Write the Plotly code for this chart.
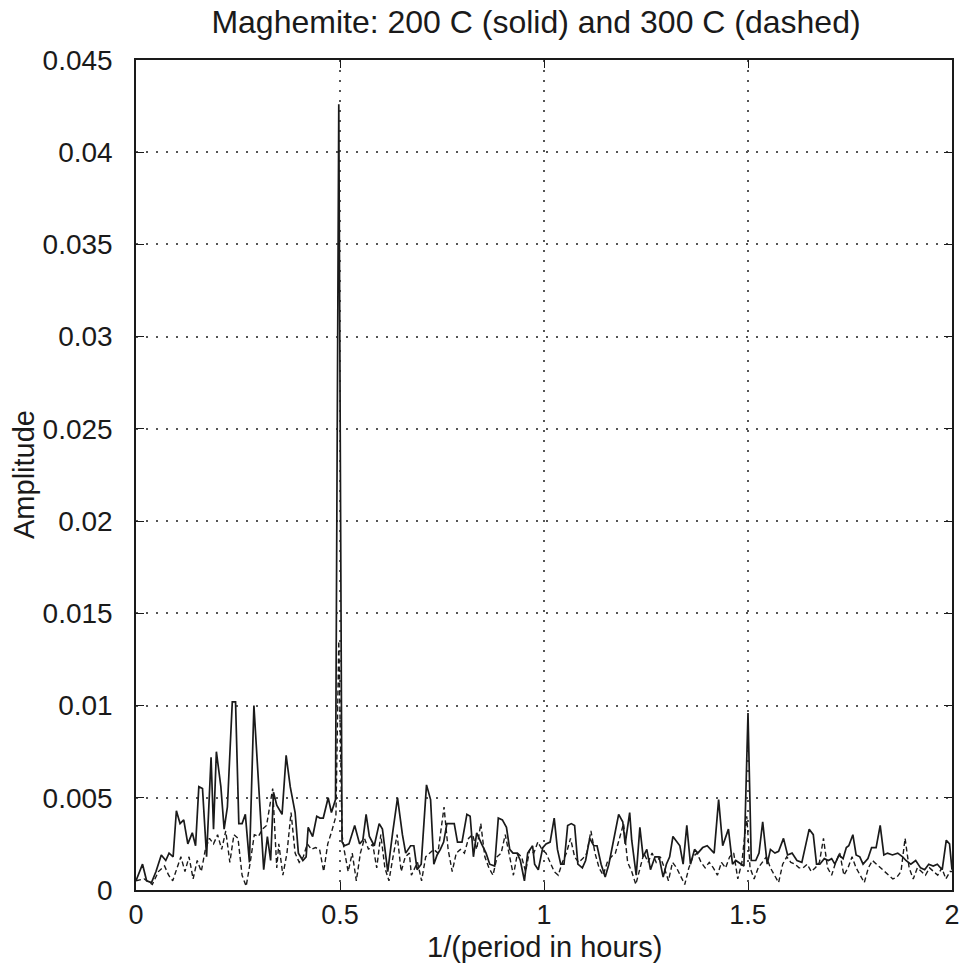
import plotly.graph_objects as go

# Solid curve: 200 C
solid_f = [0.000, 0.016, 0.026, 0.038, 0.049, 0.062, 0.073, 0.081, 0.091, 0.099,
           0.108, 0.117, 0.127, 0.138, 0.146, 0.154, 0.163, 0.173, 0.184, 0.190,
           0.197, 0.208, 0.216, 0.224, 0.236, 0.244, 0.252, 0.260, 0.268, 0.278,
           0.289, 0.313, 0.322, 0.330, 0.337, 0.345, 0.358, 0.368, 0.378, 0.390,
           0.398, 0.409, 0.417, 0.422, 0.433, 0.443, 0.451, 0.459, 0.471, 0.479,
           0.489, 0.497, 0.505, 0.511, 0.522, 0.536, 0.548, 0.556, 0.564, 0.572,
           0.584, 0.596, 0.604, 0.617, 0.629, 0.641, 0.653, 0.661, 0.673, 0.681,
           0.689, 0.699, 0.712, 0.722, 0.730, 0.738, 0.746, 0.754, 0.762, 0.770,
           0.780, 0.788, 0.799, 0.811, 0.819, 0.827, 0.835, 0.847, 0.858, 0.867,
           0.879, 0.888, 0.898, 0.908, 0.916, 0.924, 0.934, 0.942, 0.952, 0.960,
           0.972, 0.977, 0.986, 0.997, 1.005, 1.015, 1.025, 1.033, 1.041, 1.049,
           1.058, 1.067, 1.075, 1.083, 1.094, 1.102, 1.112, 1.122, 1.130, 1.140,
           1.150, 1.159, 1.171, 1.183, 1.193, 1.199, 1.210, 1.215, 1.226, 1.235,
           1.243, 1.252, 1.261, 1.272, 1.282, 1.292, 1.300, 1.308, 1.316, 1.325,
           1.333, 1.341, 1.350, 1.359, 1.369, 1.377, 1.389, 1.400, 1.409, 1.417,
           1.428, 1.438, 1.452, 1.462, 1.470, 1.482, 1.490, 1.500, 1.508, 1.519,
           1.527, 1.536, 1.547, 1.555, 1.566, 1.575, 1.587, 1.597, 1.608, 1.620,
           1.632, 1.640, 1.650, 1.660, 1.668, 1.676, 1.687, 1.697, 1.705, 1.713,
           1.723, 1.733, 1.741, 1.747, 1.757, 1.765, 1.774, 1.782, 1.794, 1.803,
           1.814, 1.824, 1.833, 1.842, 1.854, 1.867, 1.879, 1.887, 1.899, 1.911,
           1.923, 1.933, 1.943, 1.954, 1.964, 1.976, 1.986, 1.994, 2.000]
solid_a = [0.0005, 0.0014, 0.0005, 0.0004, 0.0010, 0.0019, 0.0016, 0.0020, 0.0018, 0.0043,
           0.0036, 0.0038, 0.0025, 0.0031, 0.0024, 0.0056, 0.0055, 0.0018, 0.0072, 0.0033,
           0.0075, 0.0056, 0.0033, 0.0045, 0.0102, 0.0102, 0.0036, 0.0036, 0.0041, 0.0015,
           0.0100, 0.0011, 0.0029, 0.0016, 0.0053, 0.0046, 0.0041, 0.0073, 0.0056, 0.0042,
           0.0020, 0.0016, 0.0018, 0.0034, 0.0029, 0.0040, 0.0039, 0.0039, 0.0050, 0.0042,
           0.0049, 0.0426, 0.0026, 0.0024, 0.0025, 0.0035, 0.0025, 0.0027, 0.0041, 0.0029,
           0.0024, 0.0036, 0.0033, 0.0010, 0.0031, 0.0050, 0.0030, 0.0020, 0.0024, 0.0024,
           0.0011, 0.0014, 0.0057, 0.0049, 0.0014, 0.0019, 0.0022, 0.0026, 0.0036, 0.0036,
           0.0036, 0.0026, 0.0026, 0.0041, 0.0040, 0.0018, 0.0031, 0.0025, 0.0020, 0.0014,
           0.0013, 0.0039, 0.0038, 0.0034, 0.0022, 0.0020, 0.0020, 0.0016, 0.0005, 0.0020,
           0.0024, 0.0014, 0.0011, 0.0023, 0.0025, 0.0026, 0.0039, 0.0022, 0.0014, 0.0014,
           0.0035, 0.0036, 0.0035, 0.0014, 0.0012, 0.0016, 0.0028, 0.0024, 0.0024, 0.0014,
           0.0007, 0.0014, 0.0027, 0.0041, 0.0037, 0.0025, 0.0042, 0.0027, 0.0008, 0.0034,
           0.0018, 0.0022, 0.0011, 0.0018, 0.0018, 0.0007, 0.0014, 0.0018, 0.0029, 0.0026,
           0.0024, 0.0014, 0.0035, 0.0014, 0.0022, 0.0020, 0.0023, 0.0024, 0.0022, 0.0020,
           0.0049, 0.0024, 0.0033, 0.0014, 0.0016, 0.0014, 0.0013, 0.0096, 0.0016, 0.0016,
           0.0020, 0.0037, 0.0014, 0.0022, 0.0020, 0.0021, 0.0028, 0.0019, 0.0020, 0.0016,
           0.0015, 0.0023, 0.0033, 0.0030, 0.0014, 0.0014, 0.0017, 0.0016, 0.0017, 0.0014,
           0.0019, 0.0017, 0.0023, 0.0024, 0.0030, 0.0019, 0.0018, 0.0014, 0.0017, 0.0023,
           0.0023, 0.0035, 0.0019, 0.0020, 0.0019, 0.0020, 0.0018, 0.0016, 0.0014, 0.0016,
           0.0012, 0.0011, 0.0014, 0.0013, 0.0014, 0.0011, 0.0027, 0.0025, 0.0011]

# Dashed curve: 300 C
dashed_f = [0.000, 0.020, 0.040, 0.055, 0.070, 0.080, 0.090, 0.100, 0.110, 0.120,
            0.130, 0.140, 0.150, 0.160, 0.170, 0.180, 0.190, 0.200, 0.210, 0.220,
            0.230, 0.240, 0.250, 0.260, 0.270, 0.280, 0.290, 0.300, 0.310, 0.320,
            0.335, 0.345, 0.350, 0.360, 0.370, 0.380, 0.390, 0.400, 0.410, 0.420,
            0.430, 0.440, 0.450, 0.460, 0.470, 0.480, 0.490, 0.497, 0.505, 0.510,
            0.520, 0.530, 0.540, 0.550, 0.560, 0.570, 0.580, 0.590, 0.600, 0.610,
            0.620, 0.630, 0.640, 0.650, 0.660, 0.670, 0.675, 0.690, 0.700, 0.710,
            0.720, 0.730, 0.740, 0.755, 0.765, 0.775, 0.785, 0.795, 0.805, 0.815,
            0.825, 0.835, 0.845, 0.855, 0.865, 0.875, 0.885, 0.895, 0.905, 0.915,
            0.925, 0.935, 0.945, 0.955, 0.965, 0.975, 0.985, 0.995, 1.005, 1.015,
            1.025, 1.035, 1.045, 1.055, 1.065, 1.075, 1.085, 1.095, 1.105, 1.115,
            1.125, 1.135, 1.145, 1.155, 1.165, 1.175, 1.185, 1.195, 1.205, 1.215,
            1.225, 1.235, 1.245, 1.255, 1.265, 1.275, 1.285, 1.295, 1.305, 1.315,
            1.325, 1.345, 1.355, 1.365, 1.375, 1.385, 1.395, 1.405, 1.415, 1.425,
            1.435, 1.445, 1.455, 1.465, 1.475, 1.485, 1.497, 1.505, 1.515, 1.525,
            1.535, 1.545, 1.555, 1.565, 1.575, 1.585, 1.595, 1.605, 1.615, 1.625,
            1.635, 1.645, 1.655, 1.665, 1.675, 1.685, 1.695, 1.705, 1.715, 1.725,
            1.735, 1.745, 1.755, 1.765, 1.775, 1.785, 1.795, 1.805, 1.815, 1.825,
            1.835, 1.845, 1.855, 1.865, 1.875, 1.885, 1.895, 1.905, 1.915, 1.925,
            1.935, 1.945, 1.955, 1.965, 1.975, 1.985, 1.995, 2.000]
dashed_a = [0.0005, 0.0006, 0.0003, 0.0010, 0.0013, 0.0008, 0.0005, 0.0012, 0.0018, 0.0010,
            0.0018, 0.0006, 0.0016, 0.0010, 0.0022, 0.0028, 0.0025, 0.0030, 0.0022, 0.0032,
            0.0015, 0.0030, 0.0028, 0.0008, 0.0002, 0.0015, 0.0030, 0.0029, 0.0033, 0.0035,
            0.0055, 0.0012, 0.0025, 0.0008, 0.0020, 0.0042, 0.0020, 0.0015, 0.0018, 0.0025,
            0.0022, 0.0023, 0.0022, 0.0010, 0.0025, 0.0032, 0.0040, 0.0135, 0.0030, 0.0022,
            0.0010, 0.0020, 0.0005, 0.0020, 0.0028, 0.0022, 0.0025, 0.0012, 0.0030, 0.0012,
            0.0005, 0.0018, 0.0030, 0.0010, 0.0018, 0.0020, 0.0008, 0.0015, 0.0005, 0.0018,
            0.0020, 0.0022, 0.0020, 0.0045, 0.0022, 0.0010, 0.0020, 0.0022, 0.0020, 0.0028,
            0.0030, 0.0022, 0.0036, 0.0018, 0.0012, 0.0008, 0.0018, 0.0020, 0.0030, 0.0018,
            0.0008, 0.0020, 0.0018, 0.0010, 0.0022, 0.0020, 0.0026, 0.0022, 0.0020, 0.0015,
            0.0010, 0.0008, 0.0015, 0.0020, 0.0028, 0.0018, 0.0015, 0.0017, 0.0020, 0.0032,
            0.0020, 0.0012, 0.0008, 0.0015, 0.0018, 0.0020, 0.0028, 0.0036, 0.0015, 0.0010,
            0.0003, 0.0012, 0.0020, 0.0015, 0.0020, 0.0015, 0.0018, 0.0012, 0.0005, 0.0015,
            0.0012, 0.0003, 0.0012, 0.0018, 0.0020, 0.0015, 0.0012, 0.0015, 0.0012, 0.0008,
            0.0015, 0.0012, 0.0018, 0.0020, 0.0006, 0.0015, 0.0040, 0.0012, 0.0006, 0.0012,
            0.0015, 0.0018, 0.0012, 0.0008, 0.0004, 0.0014, 0.0018, 0.0015, 0.0014, 0.0012,
            0.0012, 0.0014, 0.0010, 0.0012, 0.0015, 0.0028, 0.0012, 0.0008, 0.0015, 0.0020,
            0.0008, 0.0012, 0.0018, 0.0012, 0.0008, 0.0004, 0.0012, 0.0016, 0.0014, 0.0012,
            0.0010, 0.0008, 0.0006, 0.0007, 0.0010, 0.0028, 0.0012, 0.0006, 0.0012, 0.0010,
            0.0008, 0.0012, 0.0010, 0.0008, 0.0012, 0.0006, 0.0010, 0.0010]

x_ticks = [0, 0.5, 1, 1.5, 2]
x_tick_labels = ["0", "0.5", "1", "1.5", "2"]
y_ticks = [0, 0.005, 0.01, 0.015, 0.02, 0.025, 0.03, 0.035, 0.04, 0.045]
y_tick_labels = ["0", "0.005", "0.01", "0.015", "0.02", "0.025", "0.03", "0.035", "0.04", "0.045"]

FONT = "Liberation Sans, Arial, sans-serif"
INK = "#1a1a1a"

fig = go.Figure()
fig.add_trace(go.Scatter(x=dashed_f, y=dashed_a, mode="lines",
                         line=dict(color=INK, width=1.4, dash="5px,3px"),
                         showlegend=False, hoverinfo="skip"))
fig.add_trace(go.Scatter(x=solid_f, y=solid_a, mode="lines",
                         line=dict(color=INK, width=1.7),
                         showlegend=False, hoverinfo="skip"))

axis_common = dict(
    showline=True, linecolor=INK, linewidth=1.5, mirror="ticks",
    ticks="inside", ticklen=8, tickwidth=1.2, tickcolor=INK,
    showgrid=True, gridcolor="#555555", gridwidth=1.5, griddash="2px,8px",
    zeroline=False,
)

fig.update_xaxes(range=[0, 2], tickvals=x_ticks, ticktext=x_tick_labels,
                 ticklabelstandoff=0, tickfont=dict(family=FONT, size=27, color=INK),
                 **axis_common)
fig.update_yaxes(range=[0, 0.045], tickvals=y_ticks, ticktext=y_tick_labels,
                 ticklabelstandoff=16, tickfont=dict(family=FONT, size=28, color=INK),
                 **axis_common)

fig.update_layout(
    width=970, height=966,
    margin=dict(l=136, r=10, t=60, b=76),
    paper_bgcolor="white", plot_bgcolor="white",
    title=dict(text="Maghemite: 200 C (solid) and 300 C (dashed)",
               font=dict(family=FONT, size=32, color=INK),
               x=536 / 970, xanchor="center", xref="container",
               y=1 - 22 / 966, yanchor="middle", yref="container"),
    annotations=[
        dict(text="1/(period in hours)", xref="paper", yref="paper",
             x=0.5, y=0, yshift=-57, xanchor="center", yanchor="middle", showarrow=False,
             font=dict(family=FONT, size=29, color=INK)),
        dict(text="Amplitude", xref="paper", yref="paper", textangle=-90,
             x=0, xshift=-112, y=0.5, xanchor="center", yanchor="middle", showarrow=False,
             font=dict(family=FONT, size=29, color=INK)),
    ],
)

fig.write_html("out.html")
